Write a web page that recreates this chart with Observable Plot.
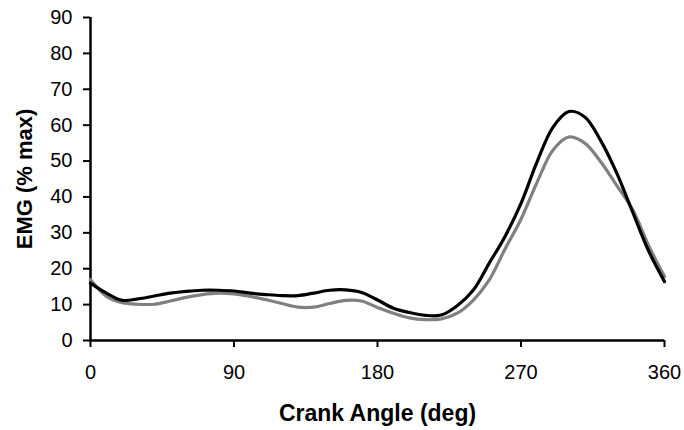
<!DOCTYPE html>
<html>
<head>
<meta charset="utf-8">
<script src="https://cdn.jsdelivr.net/npm/d3@7"></script>
<script src="https://cdn.jsdelivr.net/npm/@observablehq/plot@0.6"></script>
<style>
  body { margin: 0; background: #fff; }
</style>
</head>
<body>
<div id="chart"></div>
<script>

const angle = [0, 10, 20, 30, 40, 50, 60, 70, 80, 90, 100, 110, 120, 130, 140, 150, 160, 170, 180,
    190, 200, 210, 220, 230, 240, 250, 260, 270, 280, 290, 300, 310, 320, 330, 340, 350, 360];

// black trace
const emgBlack = [16, 13.2, 11.2, 11.6, 12.4, 13.2, 13.7, 14, 14, 13.8, 13.2, 12.8, 12.5, 12.5, 13.2, 14, 14.1, 13.4, 11.3,
    9, 7.8, 7, 7.1, 9.7, 14, 21.5, 29, 38.2, 49.7, 59.4, 63.8, 62.3, 55.7, 46.7, 35.8, 25, 16.4];

// grey trace
const emgGray = [17, 12.3, 10.5, 10.1, 10.1, 11, 12, 12.8, 13.2, 13, 12.3, 11.4, 10.3, 9.3, 9.3, 10.3, 11.2, 11, 9.2,
    7.6, 6.3, 5.8, 6, 7.6, 11.2, 16.8, 25.5, 33.8, 44, 53, 56.7, 55, 49.8, 43.2, 36.5, 26.5, 17.8];

const xTicks = [0, 90, 180, 270, 360];
const yTicks = [0, 10, 20, 30, 40, 50, 60, 70, 80, 90];

const rows = angle.map((a, i) => ({angle: a, black: emgBlack[i], gray: emgGray[i]}));

let chart = Plot.plot({
    width: 684,
    height: 430,
    marginLeft: 90,
    marginRight: 20,
    marginTop: 17,
    marginBottom: 90,
    style: {fontFamily: "'Liberation Sans', Arial, sans-serif", color: "#000", background: "#fff"},
    x: {domain: [0, 360]},
    y: {domain: [0, 90]},
    marks: [
        Plot.axisX({ticks: xTicks, tickSize: 7, tickPadding: 17, fontSize: 20, strokeWidth: 2, label: null}),
        Plot.axisY({ticks: yTicks, tickSize: 7, tickPadding: 11, fontSize: 20, strokeWidth: 2, label: null}),
        Plot.ruleX([0], {strokeWidth: 2.5}),
        Plot.ruleY([0], {strokeWidth: 2.5}),
        Plot.lineY(rows, {x: "angle", y: "gray", stroke: "#808080", strokeWidth: 3.2, curve: "catmull-rom"}),
        Plot.lineY(rows, {x: "angle", y: "black", stroke: "#000", strokeWidth: 3.2, curve: "catmull-rom"}),
        Plot.text(["Crank Angle (deg)"], {frameAnchor: "bottom", lineAnchor: "middle", textAnchor: "middle", dy: 73, fontSize: 23, fontWeight: "bold"}),
        Plot.text(["EMG (% max)"], {frameAnchor: "left", lineAnchor: "middle", textAnchor: "middle", dx: -66, rotate: -90, fontSize: 22, fontWeight: "bold"})
    ]
});

d3.select('#chart').append(() => chart);
</script>
</body>
</html>
